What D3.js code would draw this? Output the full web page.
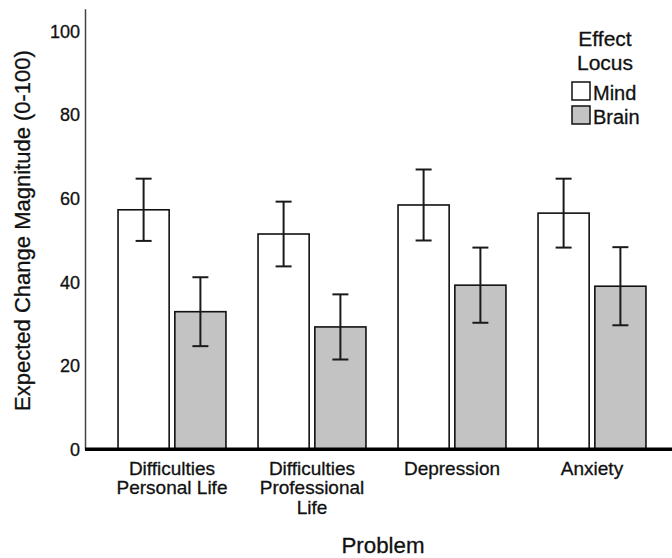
<!DOCTYPE html>
<html>
<head>
<meta charset="utf-8">
<script src="https://cdn.jsdelivr.net/npm/d3@7"></script>
<style>
  html, body { margin: 0; padding: 0; background: #fff; }
  svg { display: block; font-family: "Liberation Sans", Arial, Helvetica, sans-serif; }
  svg text { stroke: #111; stroke-width: 0.3px; }
</style>
</head>
<body>
<svg id="chart" width="672" height="558"></svg>
<script>
// ---- data ----
const categories = ["Difficulties Personal Life", "Difficulties Professional Life", "Depression", "Anxiety"];
const categoryLabelLines = [["Difficulties", "Personal Life"], ["Difficulties", "Professional", "Life"], ["Depression"], ["Anxiety"]];
const seriesNames = ["Mind", "Brain"];
const mindValues = [57.35, 51.55, 58.5, 56.55];
const mindErrors = [7.45, 7.75, 8.5, 8.25];
const brainValues = [32.95, 29.3, 39.3, 39.05];
const brainErrors = [8.25, 7.8, 9.0, 9.35];
const yTicks = [0, 20, 40, 60, 80, 100];
const yTitle = "Expected Change Magnitude (0-100)";
const xTitle = "Problem";
const legendTitle = ["Effect", "Locus"];

// ---- build rows ----
const rows = [];
categories.forEach((c, i) => {
  rows.push({cat: c, series: "Mind", value: mindValues[i], err: mindErrors[i]});
  rows.push({cat: c, series: "Brain", value: brainValues[i], err: brainErrors[i]});
});

const svg = d3.select("#chart");
const axisX = 85;
const fills = {Mind: "#ffffff", Brain: "#c3c3c3"};

const y = d3.scaleLinear().domain([0, 105.5]).range([449.3, 8.7]);
const x0 = d3.scaleBand().domain(categories).range([102, 662]).padding(0);
const x1 = d3.scaleBand().domain(seriesNames).range([0, x0.bandwidth()])
  .paddingInner(0.1).paddingOuter(0.2825);

// bars
const bars = svg.append("g");
bars.selectAll("rect").data(rows).join("rect")
  .attr("x", d => x0(d.cat) + x1(d.series))
  .attr("y", d => y(d.value))
  .attr("width", x1.bandwidth())
  .attr("height", d => y(0) - y(d.value))
  .attr("fill", d => fills[d.series])
  .attr("stroke", "#111")
  .attr("stroke-width", 1.6);

// error bars
const eb = svg.append("g").attr("stroke", "#1a1a1a").attr("stroke-width", 2);
const cap = 8;
rows.forEach(d => {
  const cx = x0(d.cat) + x1(d.series) + x1.bandwidth() / 2;
  eb.append("line").attr("x1", cx).attr("x2", cx).attr("y1", y(d.value + d.err)).attr("y2", y(d.value - d.err));
  eb.append("line").attr("x1", cx - cap).attr("x2", cx + cap).attr("y1", y(d.value + d.err)).attr("y2", y(d.value + d.err));
  eb.append("line").attr("x1", cx - cap).attr("x2", cx + cap).attr("y1", y(d.value - d.err)).attr("y2", y(d.value - d.err));
});

// y axis
const yAxis = d3.axisLeft(y).tickValues(yTicks).tickSize(0).tickPadding(5).tickSizeOuter(0);
const ga = svg.append("g").attr("transform", `translate(${axisX},0)`).call(yAxis);
ga.select(".domain").attr("stroke", "#444").attr("stroke-width", 1.5);
ga.selectAll(".tick text").attr("font-size", 18).attr("fill", "#111")
  .attr("font-family", "Liberation Sans, Arial, sans-serif");

// baseline
svg.append("line").attr("x1", axisX).attr("x2", 672).attr("y1", y(0)).attr("y2", y(0))
  .attr("stroke", "#000").attr("stroke-width", 3.5);

// x category labels
const xl = svg.append("g").attr("font-size", 19).attr("fill", "#111").attr("text-anchor", "middle");
categories.forEach((c, i) => {
  const t = xl.append("text").attr("x", x0(c) + x0.bandwidth() / 2).attr("y", 475);
  categoryLabelLines[i].forEach((ln, j) => {
    t.append("tspan").attr("x", x0(c) + x0.bandwidth() / 2).attr("dy", j === 0 ? 0 : 19.3).text(ln);
  });
});

// axis titles
svg.append("text").attr("x", 383).attr("y", 553).attr("text-anchor", "middle")
  .attr("font-size", 22.3).attr("fill", "#111").text(xTitle);
svg.append("text").attr("transform", "translate(29.5,230.5) rotate(-90)").attr("text-anchor", "middle")
  .attr("font-size", 22).attr("fill", "#111").text(yTitle);

// legend
const lg = svg.append("g");
lg.append("text").attr("x", 605).attr("y", 46).attr("text-anchor", "middle").attr("font-size", 21).attr("fill", "#111").text(legendTitle[0]);
lg.append("text").attr("x", 605).attr("y", 69.5).attr("text-anchor", "middle").attr("font-size", 21).attr("fill", "#111").text(legendTitle[1]);
seriesNames.forEach((s, i) => {
  const yy = 82 + i * 24;
  lg.append("rect").attr("x", 572).attr("y", yy).attr("width", 18).attr("height", 18)
    .attr("fill", fills[s]).attr("stroke", "#111").attr("stroke-width", 1.5);
  lg.append("text").attr("x", 593).attr("y", yy + 17.5).attr("font-size", 20).attr("fill", "#111").text(s);
});
</script>
</body>
</html>
